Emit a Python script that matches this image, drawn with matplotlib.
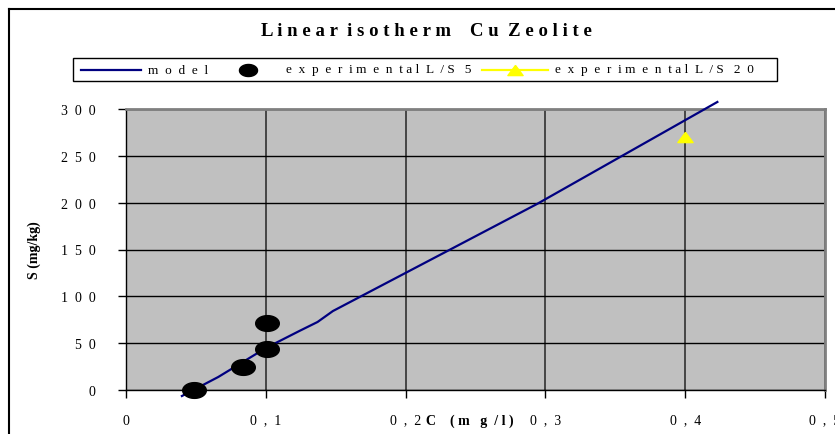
import numpy as np
import matplotlib
matplotlib.use("Agg")
import matplotlib.pyplot as plt
from matplotlib.lines import Line2D
from matplotlib.patches import Rectangle
from matplotlib.path import Path

plt.rcParams['font.family'] = ['Liberation Serif', 'DejaVu Serif']

# model curve (C in mg/l, S in mg/kg)
model_c = [0.040, 0.066, 0.100, 0.124, 0.137, 0.148, 0.294, 0.423]
model_s = [-6.4, 13.9, 44.8, 63.0, 72.6, 84.3, 198.6, 307.5]

# experimental points
ls5_c = [0.0486, 0.0837, 0.101, 0.101]
ls5_s = [0.0, 24.5, 43.8, 71.5]
ls20_c = [0.40]
ls20_s = [270.0]

xticks = [0, 0.1, 0.2, 0.3, 0.4, 0.5]
xtick_labels = ["0", "0  ,  1", "0  ,  2", "0  ,  3", "0  ,  4", "0  ,  5"]
yticks = [0, 50, 100, 150, 200, 250, 300]
ytick_labels = ["0", "5  0", "1  0  0", "1  5  0", "2  0  0", "2  5  0", "3  0  0"]

labels = ["m  o  d  e  l", "e  x  p  e  r  i m  e  n  t a l  L  / S   5",
          "e  x  p  e  r  i m  e  n  t a l  L  / S   2  0"]

W, H = 835, 435
fig = plt.figure(figsize=(W / 100, H / 100), dpi=100)
ax = fig.add_axes([126 / W, 1 - 391 / H, (825 - 126) / W, (391 - 110) / H])
ax.set_facecolor('#C0C0C0')

# ellipse and flat triangle markers
t = np.linspace(0, 2 * np.pi, 60)
ellipse = Path(np.column_stack([1.5 * np.cos(t), np.sin(t)]), closed=True)
tri = [(0, 1), (-1.5, -1), (1.5, -1), (0, 1)]

ax.plot(model_c, model_s, color='#000080', lw=1.6, clip_on=False, zorder=4)
ax.plot(ls5_c, ls5_s, ls='none', marker=ellipse, ms=17, color='black',
        clip_on=False, zorder=5)
ax.plot(ls20_c, ls20_s, ls='none', marker=tri, ms=11, color='#FFFF00',
        clip_on=False, zorder=5)

ax.set_xlim(0, 0.5)
ax.set_ylim(0, 300)
ax.set_xticks(xticks)
ax.set_xticklabels(xtick_labels)
ax.set_yticks(yticks)
ax.set_yticklabels(ytick_labels)
ax.tick_params(axis='both', direction='out', length=6, width=1, labelsize=10,
               colors='black')
ax.tick_params(axis='x', pad=11)
ax.tick_params(axis='y', pad=16)

ax.grid(True, axis='y', color='black', lw=1)
ax.grid(True, axis='x', color='#303030', lw=1.2)
ax.set_axisbelow(True)
for side in ['top', 'right']:
    ax.spines[side].set_color('#808080')
    ax.spines[side].set_linewidth(2)
for side in ['left', 'bottom']:
    ax.spines[side].set_color('black')
    ax.spines[side].set_linewidth(1)

ax.set_ylabel("S (mg/kg)", fontsize=10, fontweight='bold', labelpad=14)
fig.text(470 / W, 1 - 421 / H, "C    ( m   g  / l )", ha='center', va='center',
         fontsize=10, fontweight='bold')

fig.text(426 / W, 1 - 32 / H,
         "L i n e a r  i s o t h e r m    C u  Z e o l i t e",
         ha='center', va='center', fontsize=13.5, fontweight='bold')

# legend box, laid out like the original chart
ly = 1 - 70.5 / H
fig.add_artist(Rectangle((73 / W, 1 - 82 / H), (777 - 73) / W, 23 / H,
                         fill=False, edgecolor='black', lw=1))
fig.add_artist(Line2D([81 / W, 141 / W], [ly, ly], color='#000080', lw=1.6))
fig.add_artist(Line2D([248 / W], [ly], ls='none', marker=ellipse, ms=13,
                      color='black'))
fig.add_artist(Line2D([482 / W, 548 / W], [ly, ly], color='#FFFF00', lw=1.6))
fig.add_artist(Line2D([515 / W], [ly], ls='none', marker=tri, ms=11,
                      color='#FFFF00'))
for x0, lab in zip([148, 286, 555], labels):
    fig.text(x0 / W, ly, lab, ha='left', va='center', fontsize=9.5)

# outer chart border (left and top visible)
fig.add_artist(Line2D([9 / W, 9 / W], [0, 1 - 10 / H], color='black', lw=1.5))
fig.add_artist(Line2D([9 / W, 1], [1 - 10 / H, 1 - 10 / H], color='black', lw=1.5))

fig.savefig("out.png", dpi=100)
